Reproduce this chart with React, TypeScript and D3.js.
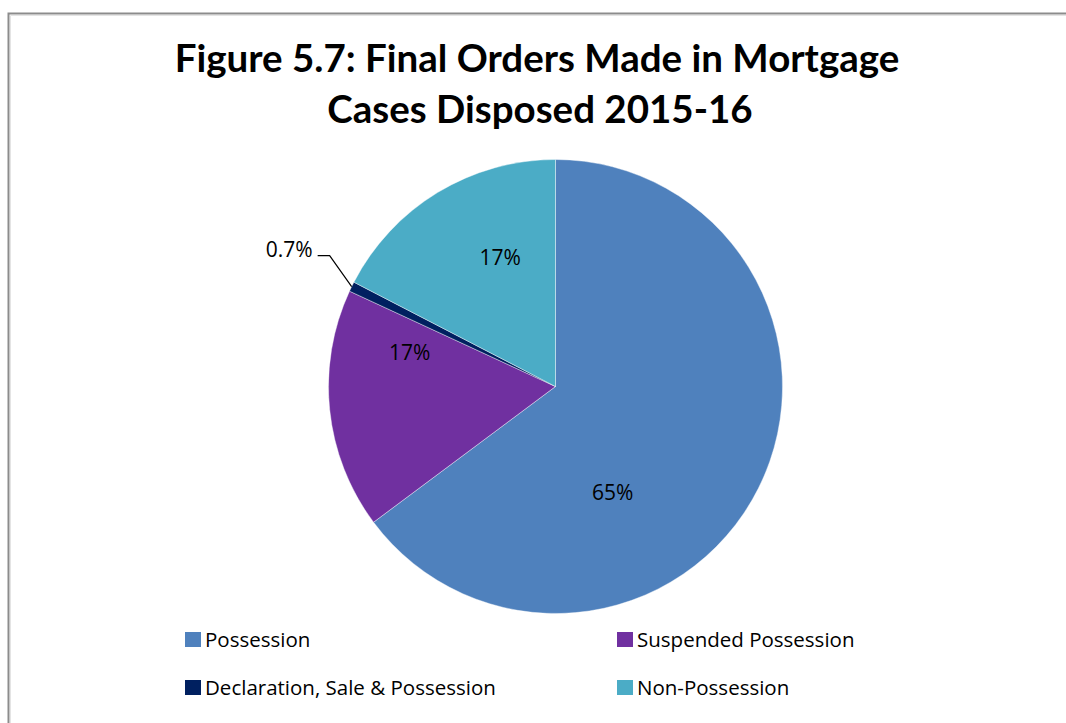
import React from "react";
import * as d3 from "d3";

const categories = ["Possession", "Suspended Possession", "Declaration, Sale & Possession", "Non-Possession"];
const values = [64.8, 17.1, 0.7, 17.4];
const valueLabels = ["65%", "17%", "0.7%", "17%"];
const colors = ["#4F81BD", "#7030A0", "#002060", "#4BACC6"];
const titleLines = ["Figure 5.7: Final Orders Made in Mortgage", "Cases Disposed  2015-16"];

// label placement: fraction along slice angle, fraction of radius
const labelPlacement = [
  { t: 0.65, r: 0.53 },
  { t: 0.81, r: 0.66 },
  { t: 0.5, r: 1 },
  { t: 0.63, r: 0.62 },
];

const W = 1066;
const H = 723;
const TITLE_FONT = "Lato, 'Open Sans', sans-serif";
const FONT = "'Open Sans', 'Noto Sans', sans-serif";

export default function App() {
  const cx = 555.5;
  const cy = 386.5;
  const R = 227;
  const pie = d3.pie<number>().sort(null).value((d) => d)(values);
  const arc = d3.arc<d3.PieArcDatum<number>>().innerRadius(0).outerRadius(R);

  const polar = (a: number, r: number) => [Math.sin(a) * r, -Math.cos(a) * r];

  const legendCols = [185, 617];
  const legendRows = [640, 688];
  const titleX = [537, 540];

  return (
    <svg width={W} height={H} style={{ position: "absolute", left: 0, top: 0, display: "block" }}>
      <rect x={0} y={0} width={W} height={H} fill="#fff" />
      <path d={`M8.5,${H} L8.5,13.5 L${W},13.5`} fill="none" stroke="#8c8c8c" strokeWidth={2} />
      <path d={`M10.5,${H} L10.5,15.5 L${W},15.5`} fill="none" stroke="#e4e4e4" strokeWidth={1} />
      {titleLines.map((t, i) => (
        <text
          key={i}
          x={titleX[i]}
          y={72 + i * 51}
          textAnchor="middle"
          fontFamily={TITLE_FONT}
          fontWeight="bold"
          fontSize={38.5}
          fill="#000"
        >
          {t}
        </text>
      ))}
      <g transform={`translate(${cx},${cy})`}>
        {pie.map((p, i) => (
          <path key={i} d={arc(p) || ""} fill={colors[i]} stroke="#ffffff" strokeOpacity={0.5} strokeWidth={0.8} />
        ))}
        {pie.map((p, i) => {
          const lp = labelPlacement[i];
          const a = p.startAngle + (p.endAngle - p.startAngle) * lp.t;
          if (lp.r >= 1) {
            const [ex, ey] = polar(a, R);
            const kx = ex - 22;
            const ky = ey - 31;
            return (
              <g key={i}>
                <polyline
                  points={`${ex},${ey} ${kx},${ky} ${kx - 12},${ky}`}
                  fill="none"
                  stroke="#000"
                  strokeWidth={1.2}
                />
                <text
                  x={kx - 17}
                  y={ky + 1}
                  textAnchor="end"
                  fontFamily={FONT}
                  fontSize={21}
                  fill="#000"
                >
                  {valueLabels[i]}
                </text>
              </g>
            );
          }
          const [lx, ly] = polar(a, R * lp.r);
          return (
            <text
              key={i}
              x={lx}
              y={ly}
              textAnchor="middle"
              dominantBaseline="central"
              fontFamily={FONT}
              fontSize={21}
              fill="#000"
            >
              {valueLabels[i]}
            </text>
          );
        })}
      </g>
      {categories.map((c, i) => {
        const x = legendCols[i % 2];
        const y = legendRows[Math.floor(i / 2)];
        return (
          <g key={i}>
            <rect x={x} y={y - 8} width={16} height={15} fill={colors[i]} />
            <text x={x + 20} y={y + 7} fontFamily={FONT} fontSize={20.5} fill="#000">
              {c}
            </text>
          </g>
        );
      })}
    </svg>
  );
}
